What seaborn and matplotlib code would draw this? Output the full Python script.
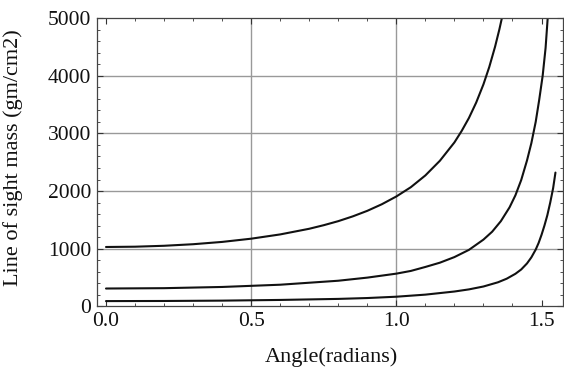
import pandas as pd
import numpy as np
import matplotlib
matplotlib.use("Agg")
import matplotlib.pyplot as plt
from matplotlib.ticker import MultipleLocator
import seaborn as sns

# values (angle in radians, mass in gm/cm2)
angle_1 = [0.0, 0.1, 0.2, 0.3, 0.4, 0.5, 0.6, 0.7, 0.75, 0.8, 0.85, 0.9, 0.95,
           1.0, 1.05, 1.1, 1.15, 1.2, 1.225, 1.25, 1.275, 1.3, 1.32, 1.34, 1.355, 1.368]
mass_1 = [1030, 1035, 1051, 1078, 1118, 1174, 1248, 1346, 1408, 1478, 1561, 1657, 1771,
          1906, 2067, 2271, 2525, 2843, 3042, 3267, 3534, 3850, 4150, 4502, 4806, 5100]

angle_2 = [0.0, 0.2, 0.4, 0.6, 0.8, 0.9, 1.0, 1.05, 1.1, 1.15, 1.2, 1.25, 1.3,
           1.33, 1.36, 1.39, 1.41, 1.43, 1.45, 1.465, 1.48, 1.492, 1.504, 1.514, 1.522]
mass_2 = [310, 316, 337, 376, 445, 499, 568, 615, 684, 758, 855, 980, 1158,
          1295, 1478, 1718, 1925, 2190, 2530, 2830, 3200, 3580, 4000, 4480, 5050]

angle_3 = [0.0, 0.2, 0.4, 0.6, 0.8, 0.9, 1.0, 1.1, 1.2, 1.25, 1.3, 1.35, 1.38,
           1.41, 1.43, 1.45, 1.465, 1.48, 1.49, 1.5, 1.51, 1.52, 1.53, 1.54, 1.548]
mass_3 = [92, 94, 100, 112, 130, 145, 168, 204, 258, 295, 345, 418, 480,
          565, 640, 745, 850, 985, 1100, 1240, 1400, 1580, 1800, 2050, 2320]

df = pd.concat([
    pd.DataFrame({"angle": angle_1, "mass": mass_1, "curve": "a"}),
    pd.DataFrame({"angle": angle_2, "mass": mass_2, "curve": "b"}),
    pd.DataFrame({"angle": angle_3, "mass": mass_3, "curve": "c"}),
])

sns.set_style("ticks")
plt.rcParams["font.family"] = ["Liberation Serif", "DejaVu Serif"]

fig = plt.figure(figsize=(5.64, 3.67), dpi=100)
ax = fig.add_axes([97 / 564, 1 - 306.4 / 367, 466 / 564, 288.4 / 367])

sns.lineplot(data=df, x="angle", y="mass", hue="curve", palette=["#111111"] * 3,
             linewidth=1.5, legend=False, ax=ax, sort=False)

ax.set_xlim(-0.031, 1.574)
ax.set_ylim(0, 5000)
ax.xaxis.set_major_locator(MultipleLocator(0.5))
ax.xaxis.set_minor_locator(MultipleLocator(0.1))
ax.yaxis.set_major_locator(MultipleLocator(1000))
ax.yaxis.set_minor_locator(MultipleLocator(200))
ax.set_xticks([0.0, 0.5, 1.0, 1.5])
ax.set_xticklabels(["0.0", "0.5", "1.0", "1.5"])

for x in [0.5, 1.0]:
    ax.axvline(x, color="#999999", linewidth=1.0, zorder=0)
for y in [1000, 2000, 3000, 4000]:
    ax.axhline(y, color="#999999", linewidth=1.0, zorder=0)

ax.tick_params(which="both", direction="in", top=True, right=True,
               colors="#333333", labelcolor="#111111", labelsize=15.5)
ax.tick_params(which="major", length=4, width=0.8, pad=4)
ax.tick_params(which="minor", length=2.5, width=0.6)
for s in ax.spines.values():
    s.set_color("#444444")
    s.set_linewidth(0.9)

ax.set_xlabel("Angle(radians)", fontsize=16, color="#111111")
ax.set_ylabel("Line of sight mass (gm/cm2)", fontsize=16, color="#111111")
ax.xaxis.set_label_coords(0.503, -0.14)
ax.yaxis.set_label_coords(-0.158, 0.516)

fig.savefig("out.png", dpi=100)
